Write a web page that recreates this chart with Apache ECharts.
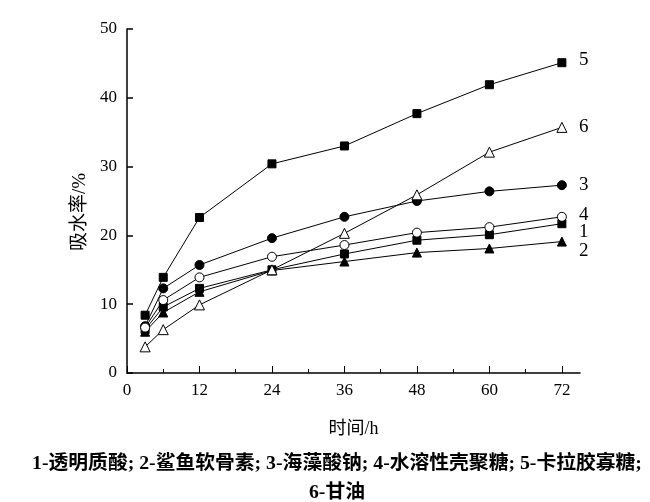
<!DOCTYPE html>
<html>
<head>
<meta charset="utf-8">
<script src="https://cdn.jsdelivr.net/npm/echarts@6/dist/echarts.min.js"></script>
<style>html,body{margin:0;padding:0;background:#fff;}#c{width:650px;height:502px;}</style>
</head>
<body>
<div id="c"></div>
<script>
var hours = [3, 6, 12, 24, 36, 48, 60, 72];
var seriesNames = ['1', '2', '3', '4', '5', '6'];
var s1 = [6.3, 9.6, 12.3, 15.0, 17.3, 19.3, 20.1, 21.7];
var s2 = [6.0, 8.8, 11.8, 14.9, 16.2, 17.5, 18.1, 19.1];
var s3 = [6.8, 12.3, 15.7, 19.6, 22.7, 25.0, 26.4, 27.3];
var s4 = [6.6, 10.6, 13.9, 16.9, 18.6, 20.4, 21.2, 22.7];
var s5 = [8.4, 13.9, 22.6, 30.4, 33.0, 37.7, 41.9, 45.1];
var s6 = [3.8, 6.3, 9.9, 15.0, 20.3, 25.9, 32.1, 35.7];
var xMajorTicks = [0, 12, 24, 36, 48, 60, 72];
var xMinorTicks = [6, 18, 30, 42, 54, 66];
var caption = '1-透明质酸; 2-鲨鱼软骨素; 3-海藻酸钠; 4-水溶性壳聚糖; 5-卡拉胶寡糖;\n6-甘油';

var FONT = '"Liberation Serif", "Noto Sans CJK SC", serif';
var allData = [s1, s2, s3, s4, s5, s6];
var symbols = ['rect', 'triangle', 'circle', 'circle', 'rect', 'triangle'];
var sizes = [8, 9, 9, 9, 8, 10];
var filled = [true, true, true, false, true, false];
var labelOffsets = [[0, 8], [0, 9], [0, 0], [0, -2], [0, -3], [0, 0]];

function pairs(vals) {
  return hours.map(function (h, i) { return [h, vals[i]]; });
}

var series = allData.map(function (vals, k) {
  return {
    name: seriesNames[k],
    type: 'line',
    xAxisIndex: 0,
    data: pairs(vals),
    symbol: symbols[k],
    symbolSize: sizes[k],
    showAllSymbol: true,
    lineStyle: { color: '#000', width: 1 },
    itemStyle: {
      color: filled[k] ? '#000' : '#fff',
      borderColor: '#000',
      borderWidth: 1
    },
    emphasis: { disabled: true },
    animation: false,
    z: 3,
    endLabel: {
      show: true,
      formatter: seriesNames[k],
      distance: 17,
      offset: labelOffsets[k],
      fontFamily: FONT,
      fontSize: 19,
      color: '#000'
    }
  };
});

var chart = echarts.init(document.getElementById('c'), null, { renderer: 'canvas' });
chart.setOption({
  backgroundColor: '#fff',
  animation: false,
  title: {
    text: caption,
    left: 332,
    top: 444,
    textAlign: 'center',
    textStyle: {
      fontFamily: FONT,
      fontSize: 19.8,
      fontWeight: 'bold',
      color: '#000',
      lineHeight: 29
    }
  },
  grid: { left: 127, right: 70, top: 29, bottom: 129, containLabel: false },
  xAxis: [
    {
      type: 'value',
      position: 'bottom',
      min: 0,
      max: 75,
      interval: 6,
      axisLine: { show: true, onZero: false, lineStyle: { color: '#000', width: 1.5 } },
      axisTick: { show: true, inside: true, length: 4, customValues: xMinorTicks, lineStyle: { color: '#000', width: 1 } },
      axisLabel: { show: false },
      splitLine: { show: false }
    },
    {
      type: 'value',
      position: 'bottom',
      min: 0,
      max: 75,
      interval: 12,
      name: '时间/h',
      nameLocation: 'middle',
      nameGap: 47,
      nameTextStyle: { fontFamily: FONT, fontSize: 18, color: '#000' },
      axisLine: { show: false, onZero: false },
      axisTick: { show: true, inside: true, length: 7, customValues: xMajorTicks, lineStyle: { color: '#000', width: 1 } },
      axisLabel: { show: true, customValues: xMajorTicks, margin: 9, fontFamily: FONT, fontSize: 17, color: '#000' },
      splitLine: { show: false }
    }
  ],
  yAxis: {
    type: 'value',
    min: 0,
    max: 50,
    interval: 10,
    name: '吸水率/%',
    nameLocation: 'middle',
    nameRotate: 90,
    nameGap: 31,
    nameTextStyle: { fontFamily: FONT, fontSize: 19, color: '#000', padding: [0, 22, 0, 0] },
    axisLine: { show: true, onZero: false, lineStyle: { color: '#000', width: 1.5 } },
    axisTick: { show: true, inside: true, length: 6, lineStyle: { color: '#000', width: 1.5 } },
    axisLabel: { margin: 10, fontFamily: FONT, fontSize: 17, color: '#000' },
    splitLine: { show: false }
  },
  series: series
});
</script>
</body>
</html>
